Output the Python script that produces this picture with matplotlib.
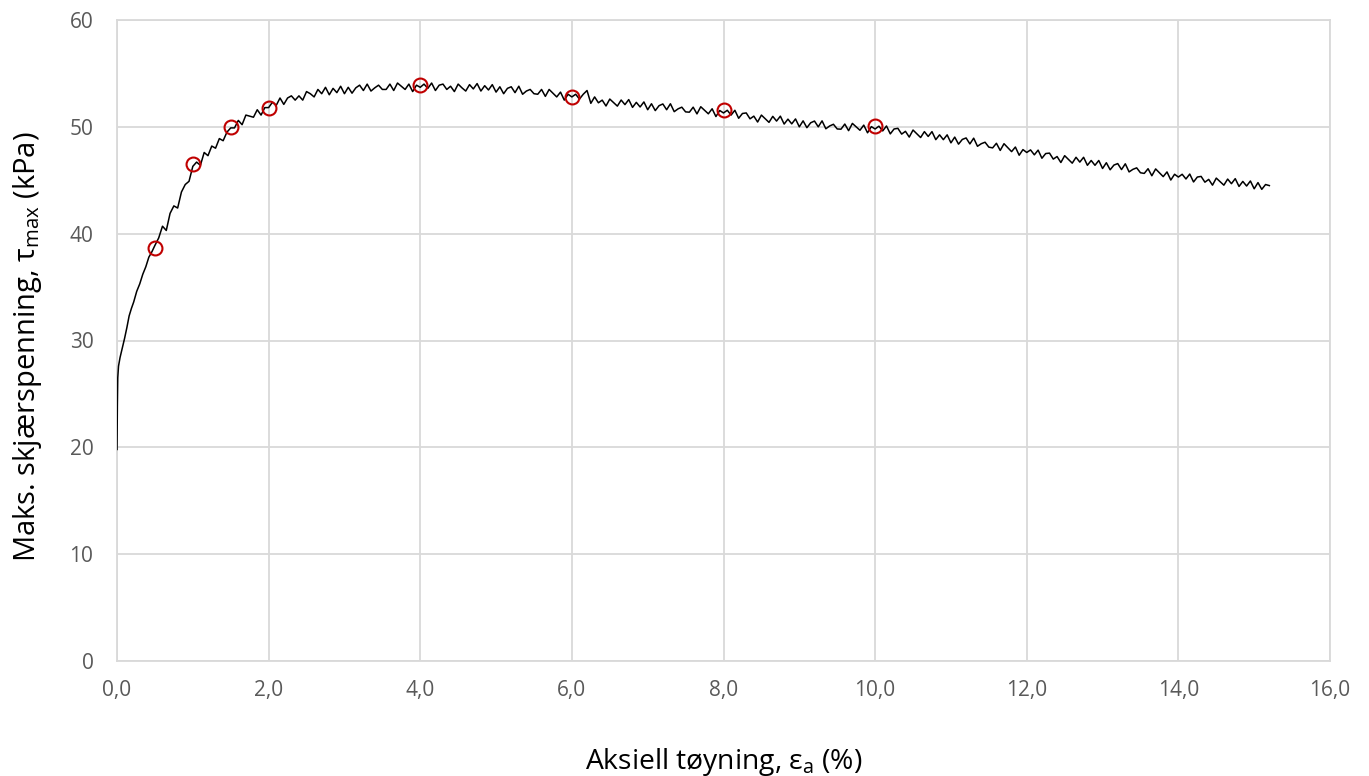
import matplotlib
matplotlib.use("Agg")
import matplotlib.pyplot as plt

# ---- data ----
strain_early = [0.0, 0.005, 0.01, 0.02, 0.04, 0.06, 0.08, 0.10, 0.13, 0.16, 0.19,
                0.22, 0.26, 0.30, 0.34, 0.38, 0.42, 0.46, 0.50]
tau_early = [19.8, 24.0, 26.5, 27.6, 28.4, 29.0, 29.6, 30.2, 31.2, 32.3, 33.0,
             33.6, 34.6, 35.3, 36.2, 36.9, 37.8, 38.3, 38.9]

# values read every 0.05 % from 0.55 to 15.20
tau_main = [
    39.6, 40.7, 40.3, 41.9, 42.6, 42.4, 43.9, 44.6, 44.9, 46.3,             # 0.55-1.00
    46.7, 46.4, 47.6, 47.3, 48.2, 48.0, 48.9, 48.7, 49.5, 49.9,             # 1.05-1.50
    49.9, 50.6, 50.2, 51.1, 51.0, 50.9, 51.6, 51.1, 51.8, 51.8,             # 1.55-2.00
    52.3, 52.0, 52.7, 52.1, 52.7, 52.9, 52.5, 52.9, 52.5, 53.3,             # 2.05-2.50
    53.1, 52.8, 53.5, 53.1, 53.7, 53.0, 53.6, 53.2, 53.8, 53.1,             # 2.55-3.00
    53.7, 53.15, 53.65, 53.9, 53.4, 54.0, 53.35, 53.65, 53.9, 53.5,         # 3.05-3.50
    53.5, 54.0, 53.4, 54.1, 53.8, 53.5, 54.0, 53.3, 53.9, 53.7,             # 3.55-4.00
    54.0, 53.6, 54.1, 53.4, 53.9, 54.0, 53.5, 53.8, 53.3, 54.0,             # 4.05-4.50
    53.65, 53.35, 53.95, 53.55, 54.05, 53.35, 53.85, 53.45, 53.95, 53.25,   # 4.55-5.00
    53.75, 53.1, 53.6, 53.75, 53.2, 53.8, 53.05, 53.35, 53.5, 53.1,         # 5.05-5.50
    53.05, 53.5, 52.85, 53.5, 53.15, 52.8, 53.25, 52.5, 53.05, 52.8,        # 5.55-6.00
    53.05, 52.6, 53.05, 53.4, 52.2, 52.8, 52.25, 52.5, 51.95, 52.6,         # 6.05-6.50
    52.27, 51.94, 52.51, 52.08, 52.55, 51.82, 52.29, 51.86, 52.33, 51.6,    # 6.55-7.00
    52.16, 51.52, 51.98, 52.14, 51.6, 52.16, 51.42, 51.68, 51.84, 51.4,     # 7.05-7.50
    51.37, 51.84, 51.21, 51.88, 51.55, 51.22, 51.69, 50.96, 51.53, 51.3,    # 7.55-8.00
    51.55, 51.1, 51.55, 50.8, 51.25, 51.3, 50.75, 51.0, 50.45, 51.1,        # 8.05-8.50
    50.76, 50.42, 50.98, 50.54, 51.0, 50.26, 50.72, 50.28, 50.74, 50.0,     # 8.55-9.00
    50.56, 49.92, 50.38, 50.54, 50.0, 50.56, 49.82, 50.08, 50.24, 49.8,     # 9.05-9.50
    49.78, 50.26, 49.64, 50.32, 50.0, 49.68, 50.16, 49.44, 50.02, 49.8,     # 9.55-10.00
    50.06, 49.62, 50.08, 49.34, 49.8, 49.86, 49.32, 49.58, 49.04, 49.7,     # 10.05-10.50
    49.35, 49.0, 49.55, 49.1, 49.55, 48.8, 49.25, 48.8, 49.25, 48.5,        # 10.55-11.00
    49.04, 48.38, 48.82, 48.96, 48.4, 48.94, 48.18, 48.42, 48.56, 48.1,     # 11.05-11.50
    48.03, 48.46, 47.79, 48.42, 48.05, 47.68, 48.11, 47.34, 47.87, 47.6,    # 11.55-12.00
    47.84, 47.38, 47.82, 47.06, 47.5, 47.54, 46.98, 47.22, 46.66, 47.3,     # 12.05-12.50
    46.95, 46.6, 47.15, 46.7, 47.15, 46.4, 46.85, 46.4, 46.85, 46.1,        # 12.55-13.00
    46.64, 45.98, 46.42, 46.56, 46.0, 46.54, 45.78, 46.02, 46.16, 45.7,     # 13.05-13.50
    45.64, 46.08, 45.42, 46.06, 45.7, 45.34, 45.78, 45.02, 45.56, 45.3,     # 13.55-14.00
    45.56, 45.12, 45.58, 44.84, 45.3, 45.36, 44.82, 45.08, 44.54, 45.2,     # 14.05-14.50
    44.87, 44.54, 45.11, 44.68, 45.15, 44.42, 44.89, 44.46, 44.93, 44.2,    # 14.55-15.00
    44.78, 44.15, 44.6, 44.5,                                               # 15.05-15.20
]
strain_main = [round(0.55 + 0.05 * i, 2) for i in range(len(tau_main))]

marker_strain = [0.5, 1.0, 1.5, 2.0, 4.0, 6.0, 8.0, 10.0]
marker_tau = [38.7, 46.5, 50.0, 51.8, 53.9, 52.8, 51.6, 50.1]

x_ticks = [0, 2, 4, 6, 8, 10, 12, 14, 16]
x_ticklabels = ["0,0", "2,0", "4,0", "6,0", "8,0", "10,0", "12,0", "14,0", "16,0"]
y_ticks = [0, 10, 20, 30, 40, 50, 60]

# ---- plot ----
plt.rcParams['font.family'] = ['Open Sans', 'DejaVu Sans']
plt.rcParams['mathtext.fontset'] = 'custom'
plt.rcParams['mathtext.rm'] = 'Open Sans'
plt.rcParams['mathtext.it'] = 'Open Sans'

fig = plt.figure(figsize=(13.69, 7.76), dpi=100)
ax = fig.add_axes([117 / 1369, 115 / 776, (1330 - 117) / 1369, (661 - 20) / 776])

x_all = strain_early + strain_main
y_all = tau_early + tau_main
ax.plot(x_all, y_all, color='black', lw=1.1, zorder=3)
ax.plot(marker_strain, marker_tau, ls='none', marker='o', ms=10, mfc='none',
        mec='#c00000', mew=1.5, zorder=4)

ax.set_xlim(0, 16)
ax.set_ylim(0, 60)
ax.set_xticks(x_ticks)
ax.set_xticklabels(x_ticklabels)
ax.set_yticks(y_ticks)
ax.grid(True, color='#d9d9d9', lw=1.3)
ax.set_axisbelow(True)
for s in ax.spines.values():
    s.set_color('#d9d9d9')
    s.set_linewidth(1.3)
ax.tick_params(length=0, labelsize=15, labelcolor='#595959')
ax.tick_params(axis='x', pad=14)
ax.tick_params(axis='y', pad=17)

ax.set_xlabel(r"Aksiell tøyning, ε$_{\mathrm{a}}$ (%)", fontsize=20.3, labelpad=32)
ax.set_ylabel(r"Maks. skjærspenning, τ$_{\mathrm{max}}$ (kPa)", fontsize=21)
ax.yaxis.set_label_coords(-0.0605, 0.49)

fig.savefig("out.png", dpi=100)
